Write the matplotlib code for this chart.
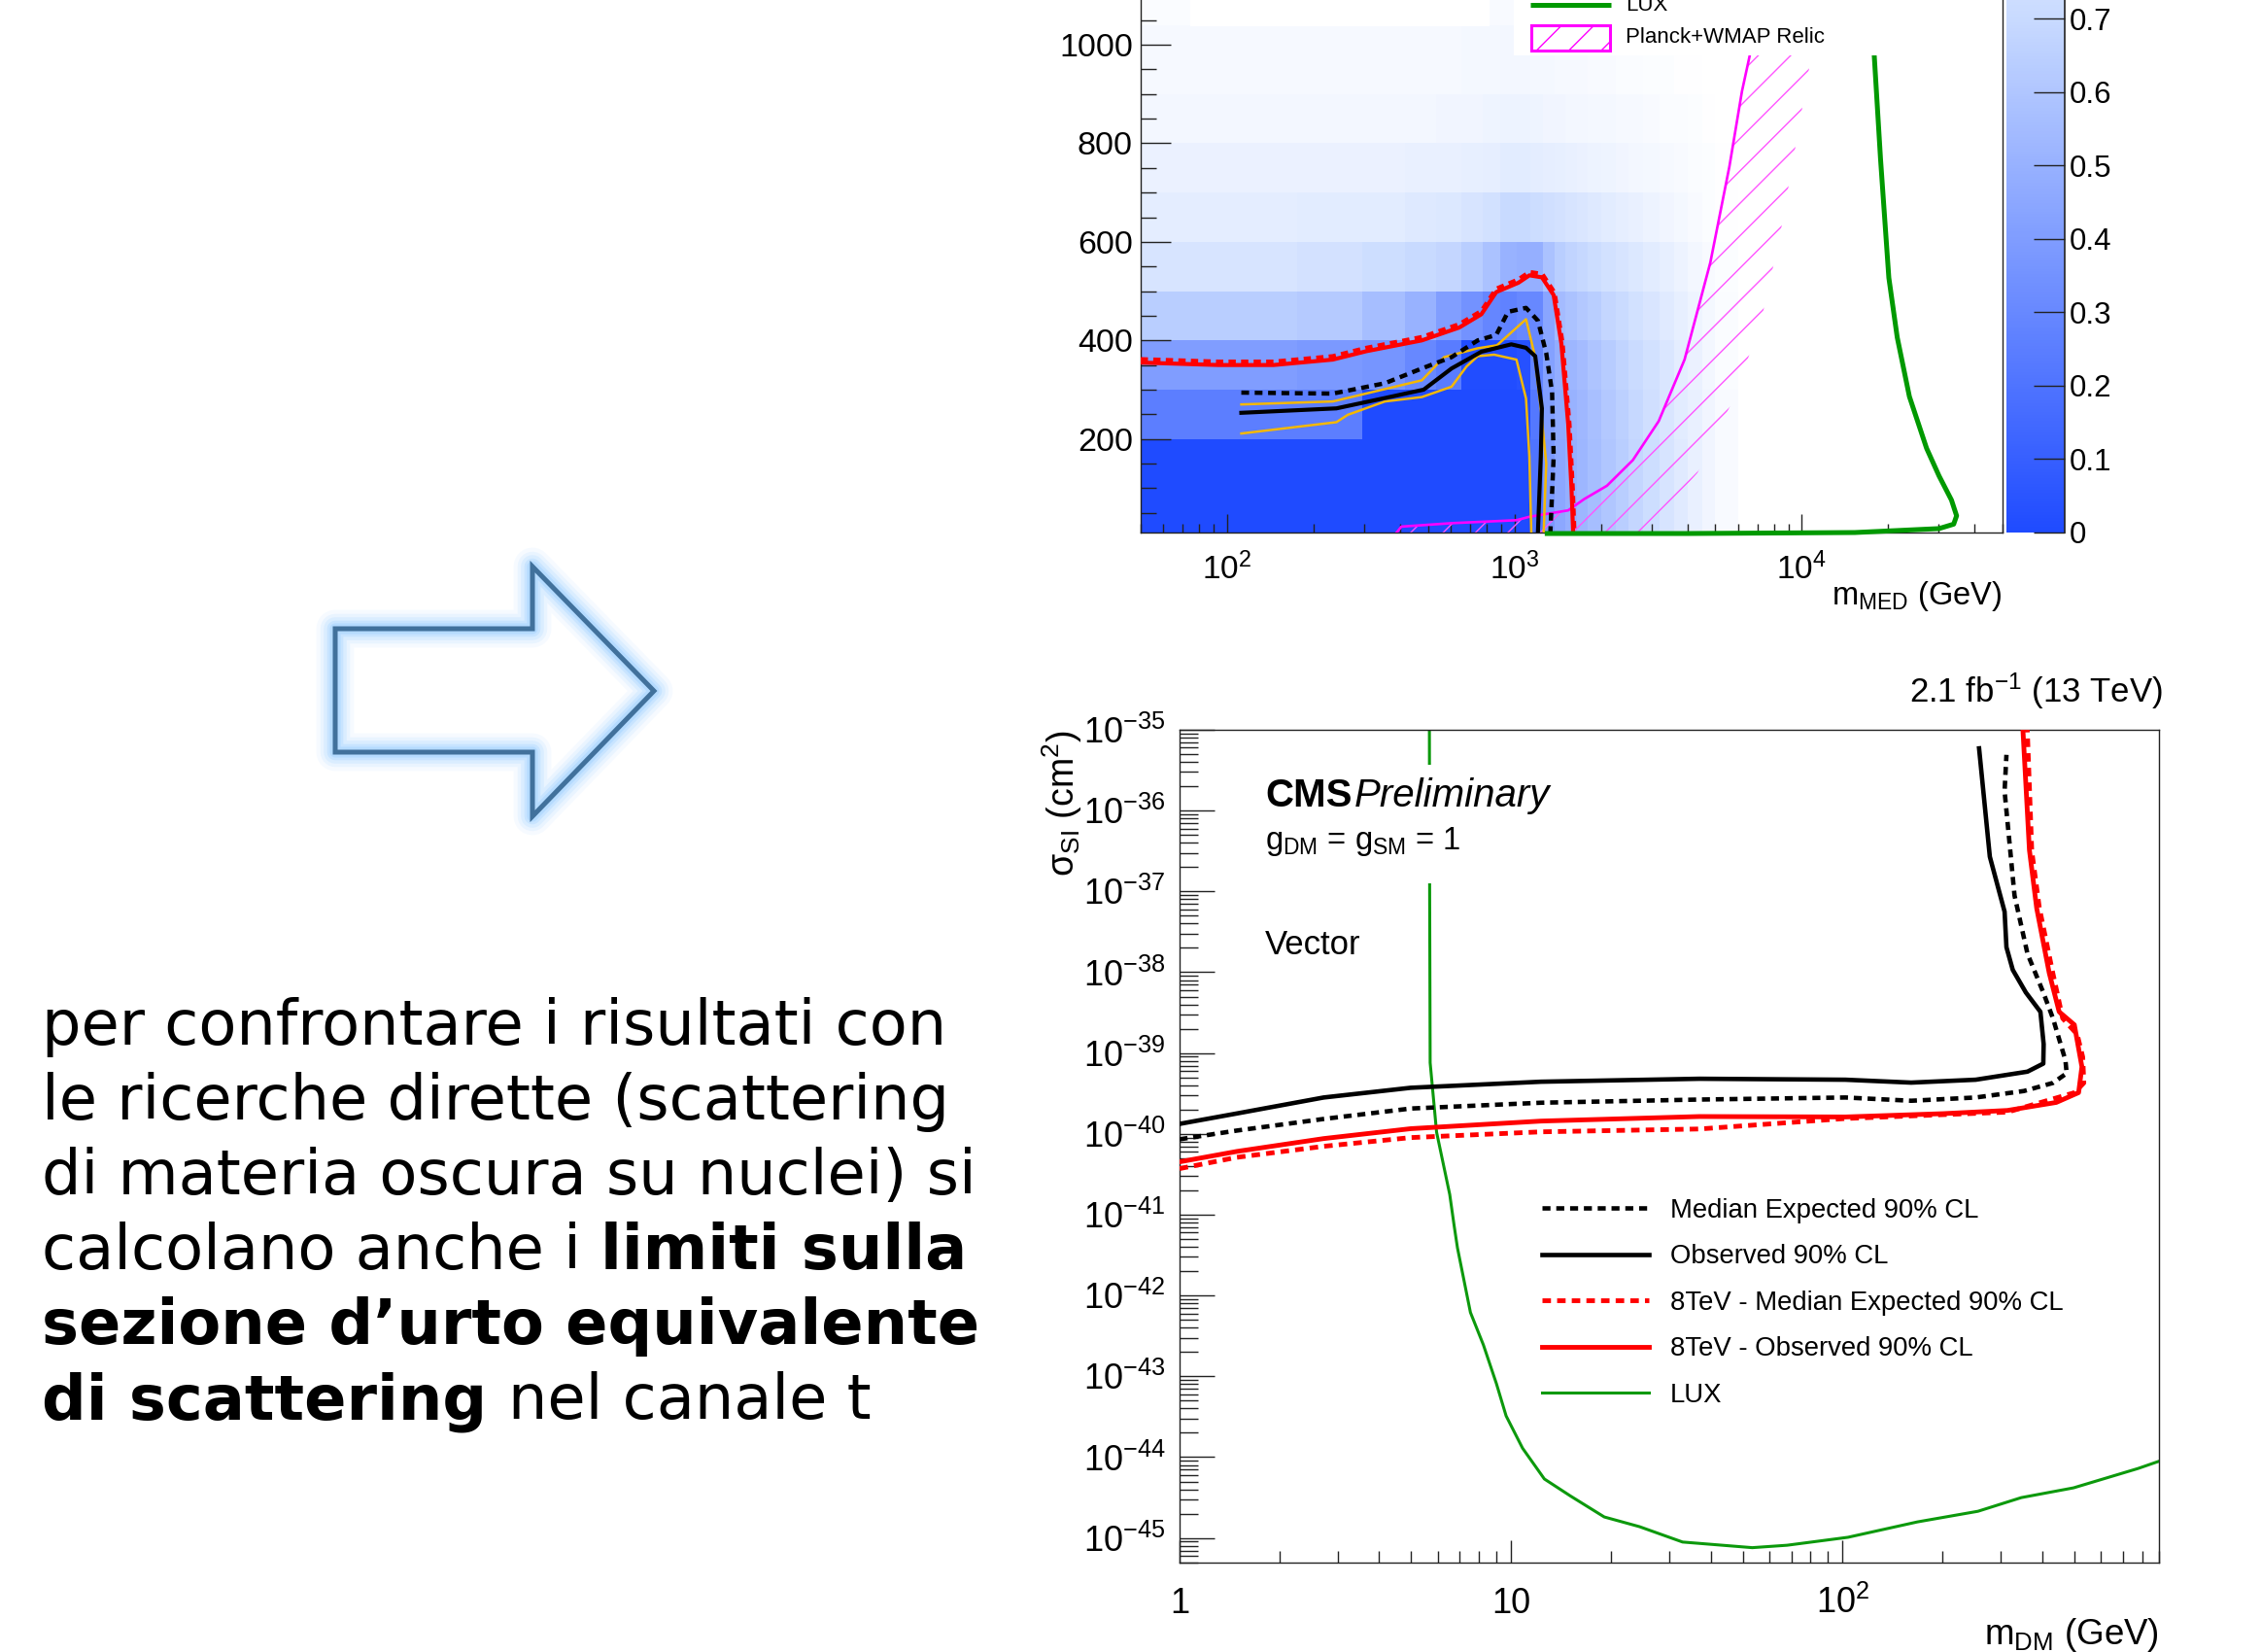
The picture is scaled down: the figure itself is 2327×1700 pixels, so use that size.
import numpy as np
import matplotlib
matplotlib.use('Agg')
import matplotlib.pyplot as plt
from matplotlib.colors import LinearSegmentedColormap
from matplotlib.patches import Polygon, Rectangle
from matplotlib.ticker import FixedLocator, NullFormatter, FuncFormatter

plt.rcParams['font.family'] = ['Liberation Sans', 'DejaVu Sans']
plt.rcParams['mathtext.fontset'] = 'custom'
plt.rcParams['mathtext.rm'] = 'Liberation Sans'
plt.rcParams['mathtext.it'] = 'Liberation Sans:italic'
plt.rcParams['mathtext.bf'] = 'Liberation Sans:bold'
plt.rcParams['hatch.linewidth'] = 1.0

# ---------------- data: top plot (m_MED vs m_DM) ----------------
mmed_edges = [50, 175, 295, 415, 535, 655, 775, 895, 1015, 1135, 1255, 1375, 1500, 1650, 1800,
              2000, 2250, 2500, 2800, 3200, 3600, 4000, 4500, 5000, 6000, 50000]
mdm_edges = [10, 200, 300, 400, 500, 600, 700, 800, 900, 1040, 1500]
mu_grid = [
    [0.00, 0.00, 0.00, 0.00, 0.00, 0.00, 0.00, 0.00, 0.00,
     0.20, 0.38, 0.45, 0.49, 0.52, 0.56, 0.60, 0.64, 0.68, 0.73, 0.78, 0.83, 0.88, 0.92, 0.96, 1.00],
    [0.25, 0.25, 0.00, 0.00, 0.00, 0.00, 0.00, 0.00, 0.00,
     0.22, 0.40, 0.46, 0.50, 0.53, 0.57, 0.61, 0.65, 0.69, 0.74, 0.79, 0.84, 0.88, 0.92, 0.96, 1.00],
    [0.40, 0.38, 0.36, 0.30, 0.24, 0.01, 0.01, 0.01, 0.03,
     0.28, 0.42, 0.48, 0.52, 0.55, 0.59, 0.63, 0.67, 0.71, 0.75, 0.80, 0.85, 0.89, 0.93, 0.97, 1.00],
    [0.64, 0.62, 0.56, 0.50, 0.41, 0.35, 0.29, 0.27, 0.30,
     0.30, 0.44, 0.55, 0.58, 0.61, 0.64, 0.68, 0.71, 0.75, 0.79, 0.83, 0.87, 0.91, 0.94, 0.97, 1.00],
    [0.78, 0.76, 0.73, 0.70, 0.68, 0.64, 0.58, 0.50, 0.49,
     0.49, 0.58, 0.64, 0.67, 0.69, 0.72, 0.75, 0.78, 0.81, 0.84, 0.87, 0.90, 0.93, 0.96, 0.98, 1.00],
    [0.85, 0.84, 0.84, 0.82, 0.81, 0.78, 0.75, 0.70, 0.70,
     0.72, 0.74, 0.76, 0.78, 0.80, 0.82, 0.84, 0.86, 0.88, 0.90, 0.92, 0.94, 0.96, 0.98, 0.99, 1.00],
    [0.89, 0.89, 0.89, 0.88, 0.88, 0.87, 0.86, 0.84, 0.84,
     0.85, 0.86, 0.87, 0.88, 0.89, 0.90, 0.91, 0.92, 0.93, 0.94, 0.95, 0.96, 0.97, 0.98, 0.99, 1.00],
    [0.93, 0.93, 0.93, 0.93, 0.92, 0.92, 0.91, 0.90, 0.90,
     0.91, 0.92, 0.92, 0.93, 0.93, 0.94, 0.94, 0.95, 0.95, 0.96, 0.97, 0.97, 0.98, 0.99, 1.00, 1.00],
    [0.95, 0.95, 0.95, 0.95, 0.95, 0.94, 0.94, 0.93, 0.93,
     0.94, 0.94, 0.95, 0.95, 0.95, 0.96, 0.96, 0.97, 0.97, 0.98, 0.98, 0.99, 0.99, 1.00, 1.00, 1.00],
    [0.97, 0.97, 0.97, 0.97, 0.97, 0.97, 0.96, 0.96, 0.96,
     0.96, 0.97, 0.97, 0.97, 0.98, 0.98, 0.98, 0.98, 0.99, 0.99, 0.99, 1.00, 1.00, 1.00, 1.00, 1.00],
]
red_obs_x = [50, 93, 145, 233, 305, 476, 642, 767, 864, 1032, 1127, 1246, 1369, 1456, 1538, 1580, 1600]
red_obs_y = [355, 350, 350, 361, 378, 400, 426, 453, 498, 517, 532, 528, 492, 394, 230, 98, 12]
red_dot_x = [50, 93, 145, 233, 305, 476, 642, 767, 864, 1032, 1127, 1250, 1380, 1470, 1555, 1597, 1617]
red_dot_y = [362, 357, 357, 368, 385, 407, 433, 460, 505, 524, 539, 535, 497, 396, 230, 98, 12]
exp_x = [112, 233, 354, 476, 604, 745, 864, 950, 1097, 1207, 1290, 1352, 1369, 1334]
exp_y = [294, 292, 313, 343, 366, 400, 411, 458, 466, 440, 374, 295, 164, 12]
obs_x = [112, 240, 354, 483, 604, 767, 975, 1097, 1181, 1246, 1235, 1207]
obs_y = [253, 262, 283, 300, 343, 377, 392, 385, 368, 262, 164, 12]
up1_x = [112, 233, 476, 569, 745, 869, 1097, 1172, 1235, 1290, 1264]
up1_y = [270, 276, 319, 366, 384, 390, 443, 374, 262, 150, 12]
dn1_x = [112, 240, 263, 354, 476, 604, 681, 745, 850, 1016, 1097, 1127, 1144]
dn1_y = [211, 234, 249, 276, 285, 306, 347, 368, 371, 361, 282, 164, 12]
relic_x = [389, 404, 604, 1016, 1127, 1538, 1750, 2099, 2583, 3177, 3909, 4806, 5600, 6195, 6590, 7400, 8300]
relic_y = [10, 22, 29, 35, 42, 55, 78, 105, 157, 236, 361, 558, 753, 906, 978, 1200, 1500]
relic_band_x = [2860, 4335, 5910, 7260, 8370, 10800, 14000]
relic_band_y = [10, 131, 292, 446, 608, 978, 1500]
luxtop_x = [1300, 4000, 15300, 30050, 33800, 34600, 33200, 30050, 27200, 23700, 21500, 20100, 18800, 17880, 17000]
luxtop_y = [8, 8, 10, 18, 27, 44, 76, 125, 181, 286, 406, 527, 769, 978, 1500]
colorbar_ticks = [0.0, 0.1, 0.2, 0.3, 0.4, 0.5, 0.6, 0.7]

# ---------------- data: bottom plot (sigma_SI vs m_DM) ----------------
mdm_exp13 = [1, 1.49, 2.72, 4.98, 12.3, 37, 102, 161, 252, 352, 431, 474, 470, 431, 403, 361, 330, 308, 312]
sig_exp13 = [8.57e-41, 1.10e-40, 1.53e-40, 2.06e-40, 2.43e-40, 2.66e-40, 2.82e-40, 2.57e-40, 2.82e-40,
             3.39e-40, 4.27e-40, 5.62e-40, 8.13e-40, 2.69e-39, 5.62e-39, 1.70e-38, 8.91e-38, 1.74e-36, 4.9e-36]
mdm_obs13 = [1, 1.49, 2.72, 4.98, 12.3, 37, 102, 161, 252, 361, 403, 404, 395, 357, 326, 312, 308, 278, 258]
sig_obs13 = [1.33e-40, 1.79e-40, 2.82e-40, 3.72e-40, 4.42e-40, 4.81e-40, 4.68e-40, 4.31e-40, 4.68e-40,
             5.89e-40, 7.41e-40, 1.29e-39, 3.24e-39, 5.62e-39, 1.07e-38, 2.04e-38, 5.62e-38, 2.69e-37, 5.89e-36]
mdm_exp8 = [1, 1.49, 2.72, 4.98, 12.3, 37, 102, 314, 501, 534, 530, 510, 461, 430, 392, 372, 360]
sig_exp8 = [3.72e-41, 5.13e-41, 7.02e-41, 9.0e-41, 1.06e-40, 1.15e-40, 1.55e-40, 1.86e-40, 3.24e-40,
            4.27e-40, 8.91e-40, 1.70e-39, 2.69e-39, 1.0e-38, 6.3e-38, 3.16e-37, 1.2e-35]
mdm_obs8 = [1, 1.49, 2.72, 4.98, 12.3, 37, 102, 201, 314, 441, 515, 527, 500, 450, 420, 385, 366, 349]
sig_obs8 = [4.51e-41, 6.07e-41, 8.75e-41, 1.16e-40, 1.44e-40, 1.64e-40, 1.62e-40, 1.78e-40, 1.95e-40,
            2.45e-40, 3.24e-40, 6.76e-40, 2.24e-39, 3.24e-39, 9.77e-39, 6.17e-38, 3.24e-37, 1.2e-35]
mdm_lux = [5.67, 5.68, 5.70, 5.96, 6.53, 6.73, 6.89, 7.54, 8.25, 9.03, 9.66, 10.83, 12.6, 15.1, 19.1,
           24.4, 32.9, 53.4, 68, 103.8, 168, 256, 346, 497, 778, 900]
sig_lux = [1.0e-35, 1.0e-37, 7.59e-40, 1.05e-40, 1.78e-41, 7.41e-42, 3.89e-42, 6.17e-43, 2.45e-43, 8.13e-44,
           3.24e-44, 1.29e-44, 5.37e-45, 3.31e-45, 1.82e-45, 1.38e-45, 8.91e-46, 7.59e-46, 8.13e-46, 1.02e-45,
           1.58e-45, 2.14e-45, 3.16e-45, 4.17e-45, 7.24e-45, 8.9e-45]
legend_labels = ['Median Expected 90% CL', 'Observed 90% CL', '8TeV - Median Expected 90% CL',
                 '8TeV - Observed 90% CL', 'LUX']

slide_lines = [
    [("per confrontare i risultati con", False)],
    [("le ricerche dirette (scattering", False)],
    [("di materia oscura su nuclei) si", False)],
    [("calcolano anche i", False), ("limiti sulla", True)],
    [("sezione d\u2019urto equivalente", True)],
    [("di scattering", True), ("nel canale t", False)],
]

# ---------------- figure ----------------
W, H = 2327, 1700
fig = plt.figure(figsize=(W / 100, H / 100), dpi=100)
fig.patch.set_facecolor('white')


def px_rect(x0, y0, x1, y1):
    return [x0 / W, 1 - y1 / H, (x1 - x0) / W, (y1 - y0) / H]


SPINE = '#222222'
dotted = (0, (1.8, 1.3))

# ---- top plot ----
cmap = LinearSegmentedColormap.from_list(
    'rootblue', [(0.0, (31 / 255, 75 / 255, 1.0)), (0.7, (200 / 255, 218 / 255, 1.0)), (1.0, (1, 1, 1))])
ax1 = fig.add_axes(px_rect(1174, -207.4, 2061, 548))
ax1.set_xscale('log')
mesh = ax1.pcolormesh(mmed_edges, mdm_edges, np.array(mu_grid), cmap=cmap, vmin=0, vmax=1,
                      shading='flat', zorder=1)
ax1.set_xlim(50, 50000)
ax1.set_ylim(10, 1500)

band = Polygon(list(zip(relic_x, relic_y)) + list(zip(relic_band_x[::-1], relic_band_y[::-1])),
               closed=True, facecolor='none', edgecolor='#ff55ff', hatch='/', lw=0, zorder=2)
ax1.add_patch(band)
ax1.plot(relic_x, relic_y, color='#ff00ff', lw=1.9, zorder=3)
ax1.plot(up1_x, up1_y, color='#f5b800', lw=1.8, zorder=4)
ax1.plot(dn1_x, dn1_y, color='#f5b800', lw=1.8, zorder=4)
ax1.plot(obs_x, obs_y, color='black', lw=3.0, zorder=5)
ax1.plot(exp_x, exp_y, color='black', lw=3.2, ls=dotted, zorder=5)
ax1.plot(red_obs_x, red_obs_y, color='red', lw=3.0, zorder=6)
ax1.plot(red_dot_x, red_dot_y, color='red', lw=3.0, ls=dotted, zorder=6)
ax1.plot(luxtop_x, luxtop_y, color='#009900', lw=3.6, zorder=7, clip_on=False)

ax1.xaxis.set_major_locator(FixedLocator([1e2, 1e3, 1e4]))
ax1.xaxis.set_minor_locator(FixedLocator([k * 10 ** e for e in (1, 2, 3, 4) for k in range(2, 10)]))
ax1.xaxis.set_minor_formatter(NullFormatter())
ax1.set_xticklabels([r'$10^{2}$', r'$10^{3}$', r'$10^{4}$'])
ax1.yaxis.set_major_locator(FixedLocator([200, 400, 600, 800, 1000]))
ax1.yaxis.set_minor_locator(FixedLocator(list(range(50, 1500, 50))))
ax1.yaxis.set_major_formatter(FuncFormatter(lambda v, p: '%d' % v))
ax1.tick_params(axis='both', which='both', direction='in', top=False, right=False, width=1.0, color=SPINE)
ax1.tick_params(axis='y', which='major', length=22, labelsize=24.5, pad=5.8)
ax1.tick_params(axis='y', which='minor', length=11.3)
ax1.tick_params(axis='x', which='major', length=13.7, labelsize=24, pad=15)
ax1.tick_params(axis='x', which='minor', length=6.5)
for s in ax1.spines.values():
    s.set_color(SPINE)
    s.set_linewidth(1.0)

cax = fig.add_axes(px_rect(2065, -207.4, 2125, 548))
cb = fig.colorbar(mesh, cax=cax)
cb.outline.set_visible(False)
cb.set_ticks(colorbar_ticks)
cb.ax.yaxis.set_major_formatter(FuncFormatter(lambda v, p: '%g' % v))
cb.ax.tick_params(direction='in', length=23, width=1.0, labelsize=22.5, pad=3.6, right=True, left=False,
                  color=SPINE)
cax.plot([1, 1], [0, 1], transform=cax.transAxes, color=SPINE, lw=1.2, clip_on=False)

# ---- bottom plot ----
ax2 = fig.add_axes(px_rect(1214, 751, 2222, 1607.7))
ax2.set_xscale('log')
ax2.set_yscale('log')
h1, = ax2.plot(mdm_exp13, sig_exp13, color='black', lw=3.3, ls=dotted, zorder=4)
h2, = ax2.plot(mdm_obs13, sig_obs13, color='black', lw=3.3, zorder=4)
h3, = ax2.plot(mdm_exp8, sig_exp8, color='red', lw=3.5, ls=dotted, zorder=3)
h4, = ax2.plot(mdm_obs8, sig_obs8, color='red', lw=3.5, zorder=3)
h5, = ax2.plot(mdm_lux, sig_lux, color='#0c990c', lw=2.2, zorder=2)
ax2.set_xlim(1, 900)
ax2.set_ylim(5e-46, 1e-35)
ax2.xaxis.set_major_locator(FixedLocator([1, 10, 100]))
ax2.xaxis.set_minor_locator(FixedLocator([k * 10 ** e for e in (0, 1, 2) for k in range(2, 10)]))
ax2.xaxis.set_minor_formatter(NullFormatter())
ax2.set_xticklabels(['1', '10', r'$10^{2}$'])
ax2.yaxis.set_major_locator(FixedLocator([10.0 ** e for e in range(-45, -34)]))
ax2.yaxis.set_minor_locator(FixedLocator([k * 10.0 ** e for e in range(-46, -35) for k in range(2, 10)]))
ax2.yaxis.set_minor_formatter(NullFormatter())
ax2.yaxis.set_major_formatter(FuncFormatter(lambda v, p: r'$10^{%d}$' % int(round(np.log10(v)))))
ax2.tick_params(axis='both', which='both', direction='in', top=False, right=False, width=1.0, color=SPINE)
ax2.tick_params(axis='y', which='major', length=25.9, labelsize=26, pad=10.4)
ax2.tick_params(axis='y', which='minor', length=13.7)
ax2.tick_params(axis='x', which='major', length=16.6, labelsize=26, pad=37.7)
ax2.tick_params(axis='x', which='minor', length=8.6)
for lbl in ax2.get_xticklabels():
    lbl.set_verticalalignment('baseline')
for s in ax2.spines.values():
    s.set_color(SPINE)
    s.set_linewidth(1.0)

leg = ax2.legend([h1, h2, h3, h4, h5], legend_labels, loc='upper left',
                 bbox_to_anchor=(1587 / W, 1 - 1233 / H), bbox_transform=fig.transFigure,
                 frameon=False, fontsize=19.8, handlelength=4.0, handletextpad=0.8,
                 labelspacing=0.78, borderpad=0, borderaxespad=0)

# ---- overlay (pixel coordinates) ----
ov = fig.add_axes([0, 0, 1, 1], zorder=10)
ov.set_xlim(0, W)
ov.set_ylim(H, 0)
ov.axis('off')
ov.patch.set_alpha(0)

# top plot legend + white boxes
ov.add_patch(Rectangle((1558, -30), 2045 - 1558, 56.5 + 30, facecolor='white', edgecolor='none'))
ov.add_patch(Rectangle((1225, -30), 1533 - 1225, 27 + 30, facecolor='white', edgecolor='none'))
ov.plot([1575, 1658], [5, 5], color='#009900', lw=3.6, solid_capstyle='butt')
ov.add_patch(Rectangle((1576, 26), 81, 26, facecolor='white', edgecolor='#ff00ff', lw=2.2, hatch='/'))
ov.text(1673, 5, 'LUX', fontsize=16, va='center', ha='left')
ov.text(1673, 38, 'Planck+WMAP Relic', fontsize=16, va='center', ha='left')
ov.text(2060, 622, r'm$_{\mathrm{MED}}$ (GeV)', fontsize=23.5, ha='right', va='baseline')

# bottom plot texts
ov.add_patch(Rectangle((1295, 787), 1610 - 1295, 909 - 787, facecolor='white', edgecolor='none'))
renderer = fig.canvas.get_renderer()
t_cms = ov.text(1302, 830, 'CMS', fontsize=29, fontweight='bold', ha='left', va='baseline')
w_cms = t_cms.get_window_extent(renderer).width
ov.text(1302 + w_cms + 2, 830, 'Preliminary', fontsize=29, fontstyle='italic', ha='left', va='baseline')
ov.text(1302, 874, r'g$_{\mathrm{DM}}$ = g$_{\mathrm{SM}}$ = 1', fontsize=23.5, ha='left', va='baseline')
ov.text(1302, 982, 'Vector', fontsize=25, ha='left', va='baseline')
ov.text(2226, 723, r'2.1 fb$^{-1}$ (13 TeV)', fontsize=25, ha='right', va='baseline')
ov.text(2222, 1692, r'm$_{\mathrm{DM}}$ (GeV)', fontsize=26.5, ha='right', va='baseline')
ov.text(1106, 751, r'$\mathrm{\sigma}_{\mathrm{SI}}$ (cm$^{2}$)', fontsize=27, rotation=90,
        rotation_mode='anchor', ha='right', va='baseline')

# arrow with glow
arrow_pts = [(345, 647), (548, 647), (548, 583), (673, 711), (548, 840), (548, 774), (345, 774)]
for lw, a in [(28, 0.08), (22, 0.12), (17, 0.17), (12, 0.25), (8, 0.35)]:
    ov.add_patch(Polygon(arrow_pts, closed=True, fill=False, edgecolor='#93cbff', lw=lw, alpha=a,
                         joinstyle='round'))
ov.add_patch(Polygon(arrow_pts, closed=True, fill=False, edgecolor='#41719c', lw=3.6, joinstyle='miter'))

# slide text
FS = 46


def tw(s, bold):
    t = ov.text(0, 0, s, fontsize=FS, family='DejaVu Sans', fontweight='bold' if bold else 'normal')
    w = t.get_window_extent(renderer).width
    t.remove()
    return w


sp_n = tw('a a', False) - tw('aa', False)
sp_b = tw('a a', True) - tw('aa', True)
for i, parts in enumerate(slide_lines):
    x = 43
    y = 1075 + 77 * i
    for s, bold in parts:
        t = ov.text(x, y, s, fontsize=FS, family='DejaVu Sans',
                    fontweight='bold' if bold else 'normal', ha='left', va='baseline', color='black')
        x += t.get_window_extent(renderer).width + (sp_b if bold else sp_n)

fig.savefig('out.png', dpi=100, facecolor='white')
